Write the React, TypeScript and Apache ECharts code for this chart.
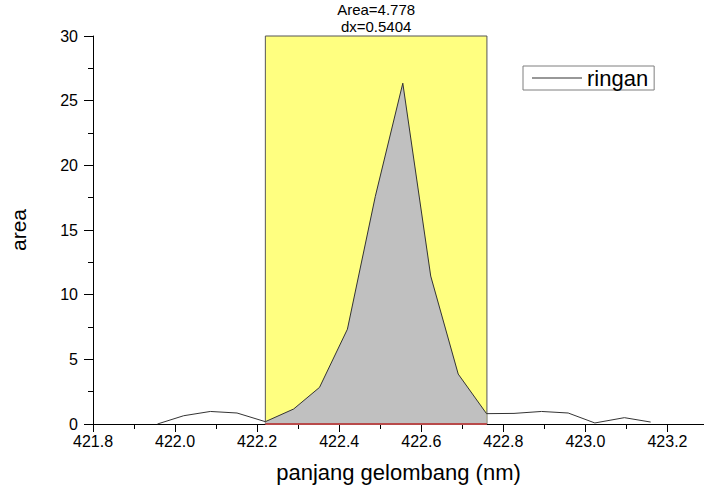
import React, { useEffect, useRef } from "react";
import * as echarts from "echarts";

// Data
const wavelengths = [421.957, 422.021, 422.086, 422.151, 422.22, 422.289, 422.352, 422.42, 422.488, 422.555, 422.623, 422.69, 422.759, 422.826, 422.893, 422.958, 423.023, 423.095, 423.159];
const areaValues = [0, 0.64, 0.97, 0.85, 0.18, 1.16, 2.83, 7.33, 17.6, 26.35, 11.44, 3.86, 0.8, 0.82, 0.97, 0.85, 0.08, 0.49, 0.15];
const integrationRange = [422.22, 422.76];
const integratedArea = "4.778";
const integratedDx = "0.5404";
const seriesName = "ringan";
const xTitle = "panjang gelombang (nm)";
const yTitle = "area";
const xMin = 421.8;
const xMax = 423.289;
const xStep = 0.2;
const yMin = 0;
const yMax = 30;
const yStep = 5;

const FONT = "'Liberation Sans', Arial, sans-serif";

export default function App() {
  const ref = useRef<HTMLDivElement>(null);
  useEffect(() => {
    if (!ref.current) return;
    const chart = echarts.init(ref.current, undefined, { renderer: "svg" });
    const mainData = wavelengths.map((x, i) => [x, areaValues[i]]);
    const fillData = mainData.filter(
      (p) => p[0] >= integrationRange[0] - 0.005 && p[0] <= integrationRange[1] + 0.005
    );
    chart.setOption({
      animation: false,
      textStyle: { fontFamily: FONT },
      grid: { left: 92, right: 0, top: 36, bottom: 63, containLabel: false },
      legend: {
        data: [seriesName],
        left: 523,
        top: 66,
        icon: "rect",
        itemWidth: 50,
        itemHeight: 1,
        padding: [1, 6, 1, 9],
        borderColor: "#7f7f7f",
        borderWidth: 1,
        textStyle: { fontSize: 22, color: "#000", fontFamily: FONT },
      },
      xAxis: {
        type: "value",
        min: xMin,
        max: xMax,
        interval: xStep,
        name: xTitle,
        nameLocation: "middle",
        nameGap: 37,
        nameTextStyle: { fontSize: 22, color: "#000", fontFamily: FONT },
        axisLine: { onZero: false, lineStyle: { color: "#000", width: 1 } },
        axisTick: { show: true, length: 8, inside: false, lineStyle: { color: "#000" } },
        minorTick: { show: true, splitNumber: 2, length: 5, lineStyle: { color: "#000" } },
        splitLine: { show: false },
        axisLabel: {
          fontSize: 16,
          color: "#000",
          margin: 9,
          showMaxLabel: false,
          formatter: (v: number) => v.toFixed(1),
        },
      },
      yAxis: {
        type: "value",
        min: yMin,
        max: yMax,
        interval: yStep,
        name: yTitle,
        nameLocation: "middle",
        nameGap: 64,
        nameTextStyle: { fontSize: 21, color: "#000", fontFamily: FONT },
        axisLine: { show: true, lineStyle: { color: "#000", width: 1 } },
        axisTick: { show: true, length: 9, inside: false, lineStyle: { color: "#000" } },
        minorTick: { show: true, splitNumber: 2, length: 5, lineStyle: { color: "#000" } },
        splitLine: { show: false },
        axisLabel: { fontSize: 16, color: "#000", margin: 15 },
      },
      series: [
        {
          name: "baseline",
          type: "line",
          z: 4,
          data: [
            [integrationRange[0], 0],
            [integrationRange[1], 0],
          ],
          showSymbol: false,
          symbol: "none",
          lineStyle: { color: "#b84a4a", width: 2 },
          silent: true,
          markArea: {
            silent: true,
            itemStyle: { color: "#ffff80", borderColor: "#555", borderWidth: 1 },
            label: {
              show: true,
              position: "top",
              distance: 1,
              formatter: `Area=${integratedArea}\ndx=${integratedDx}`,
              fontSize: 15,
              lineHeight: 16.5,
              color: "#000",
              fontFamily: FONT,
            },
            data: [
              [
                { xAxis: integrationRange[0], yAxis: yMin },
                { xAxis: integrationRange[1], yAxis: yMax },
              ],
            ],
          },
        },
        {
          name: "fill",
          type: "line",
          z: 2,
          data: fillData,
          showSymbol: false,
          symbol: "none",
          lineStyle: { width: 0, opacity: 0 },
          areaStyle: { color: "#c0c0c0", opacity: 1 },
          silent: true,
        },
        {
          name: seriesName,
          type: "line",
          z: 3,
          data: mainData,
          showSymbol: false,
          symbol: "none",
          color: "#333",
          lineStyle: { color: "#333", width: 1 },
        },
      ],
    });
    return () => chart.dispose();
  }, []);
  return (
    <div
      ref={ref}
      style={{ position: "fixed", left: 0, top: 0, width: 704, height: 488, background: "#fff" }}
    />
  );
}
